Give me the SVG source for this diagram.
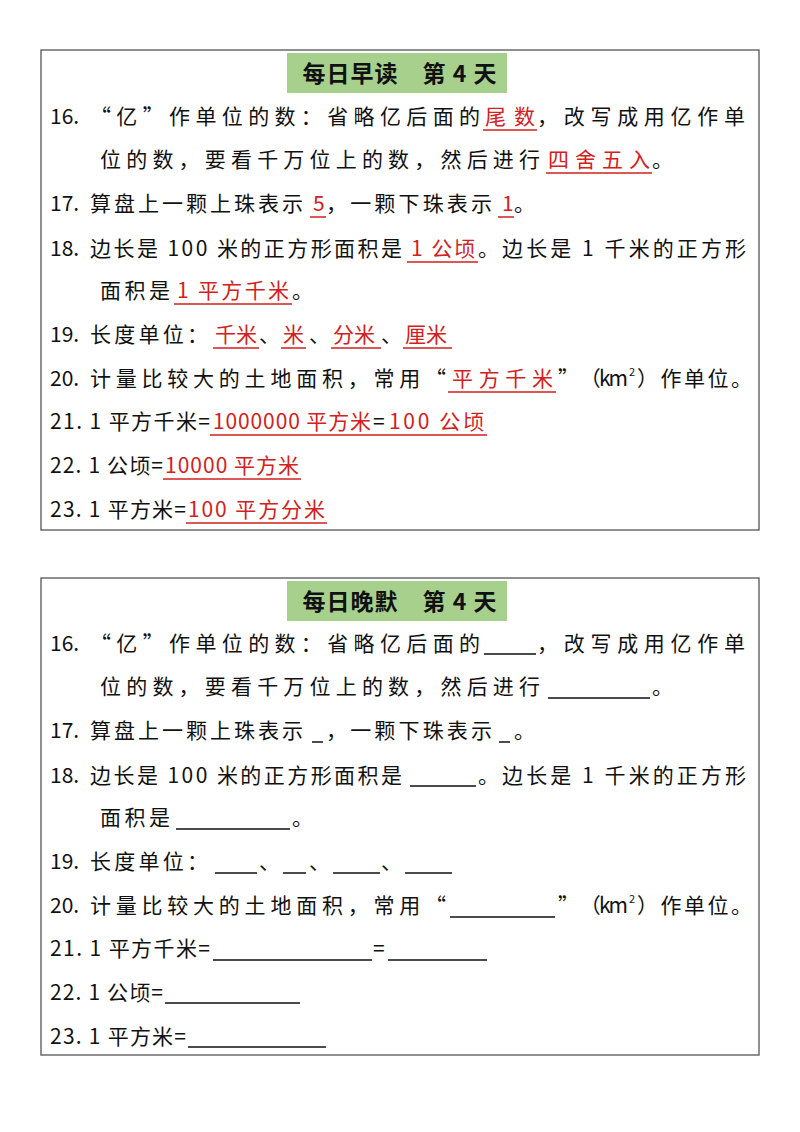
<svg xmlns="http://www.w3.org/2000/svg" width="800" height="1132" viewBox="0 0 800 1132">
<style>
text{font-family:"Noto Sans CJK SC","Noto Sans",sans-serif;font-size:21px;fill:#111}
.r{fill:#d42020}
.t{font-size:23px;font-weight:bold;letter-spacing:1px}
.sup{font-size:11px}
.ur{stroke:#d42020;stroke-width:1.3}
.u{stroke:#111;stroke-width:1.3}
.box{fill:#fff;stroke:#555;stroke-width:1.3}
</style>
<defs>
<g id="body">
<text x="50" y="0">16.</text>
<text x="90" y="0" textLength="390" lengthAdjust="spacing">“亿”作单位的数：省略亿后面的</text>
<text x="537" y="0" textLength="208" lengthAdjust="spacing">，改写成用亿作单</text>
<text x="100" y="43" textLength="440" lengthAdjust="spacing">位的数，要看千万位上的数，然后进行</text>
<text x="652" y="43">。</text>
<text x="50" y="87">17.</text>
<text x="90" y="87" textLength="213" lengthAdjust="spacing">算盘上一颗上珠表示</text>
<text x="326" y="87" textLength="166" lengthAdjust="spacing">，一颗下珠表示</text>
<text x="514" y="87">。</text>
<text x="50" y="132">18.</text>
<text x="90" y="132" textLength="312" lengthAdjust="spacing">边长是 100 米的正方形面积是</text>
<text x="478" y="132" textLength="268" lengthAdjust="spacing">。边长是 1 千米的正方形</text>
<text x="100" y="174" textLength="70" lengthAdjust="spacing">面积是</text>
<text x="292" y="174">。</text>
<text x="50" y="218">19.</text>
<text x="90" y="218" textLength="118" lengthAdjust="spacing">长度单位：</text>
<text x="259" y="218">、</text><text x="309" y="218">、</text><text x="381" y="218">、</text>
<text x="50" y="262">20.</text>
<text x="90" y="262" textLength="356" lengthAdjust="spacing">计量比较大的土地面积，常用“</text>
<text x="558" y="262" textLength="70" lengthAdjust="spacing">” （km</text>
<text class="sup" x="629" y="252">2</text>
<text x="637" y="262" textLength="115" lengthAdjust="spacing">）作单位。</text>
<text x="50" y="305" textLength="160" lengthAdjust="spacing">21. 1 平方千米=</text>
<text x="373" y="305">=</text>
<text x="50" y="349" textLength="113" lengthAdjust="spacing">22. 1 公顷=</text>
<text x="50" y="393" textLength="136" lengthAdjust="spacing">23. 1 平方米=</text>
</g>
</defs>
<rect width="800" height="1132" fill="#fff"/>
<g id="card1">
<rect class="box" x="41" y="50" width="718" height="480"/>
<rect x="287" y="53" width="220" height="40" fill="#a8d08d"/>
<text class="t" x="400" y="82" text-anchor="middle">每日早读　第 4 天</text>
<use href="#body" y="124"/>
<text class="r" x="485" y="124" textLength="50" lengthAdjust="spacing">尾数</text>
<text class="r" x="548" y="167" textLength="102" lengthAdjust="spacing">四舍五入</text>
<text class="r" x="313" y="211">5</text>
<text class="r" x="502" y="211">1</text>
<text class="r" x="411" y="256" textLength="64" lengthAdjust="spacing">1 公顷</text>
<text class="r" x="177" y="298" textLength="112" lengthAdjust="spacing">1 平方千米</text>
<text class="r" x="215" y="342">千米</text>
<text class="r" x="283" y="342">米</text>
<text class="r" x="333" y="342">分米</text>
<text class="r" x="405" y="342">厘米</text>
<text class="r" x="452" y="386" textLength="101" lengthAdjust="spacing">平方千米</text>
<text class="r" x="213" y="429" textLength="158" lengthAdjust="spacing">1000000 平方米</text>
<text class="r" x="389" y="429" textLength="95" lengthAdjust="spacing">100 公顷</text>
<text class="r" x="165" y="473" textLength="134" lengthAdjust="spacing">10000 平方米</text>
<text class="r" x="188" y="517" textLength="137" lengthAdjust="spacing">100 平方分米</text>
<path class="ur" d="M483 130H537M546 173H652M310 217H326M498 217H514M407 262H478M174 304H292M213 348H259M281 348H306M331 348H381M403 348H452M448 392H556M210 435H487M163 479H301M186 523H327"/>
</g>
<g id="card2">
<rect class="box" x="41" y="578" width="718" height="477"/>
<rect x="287" y="581" width="220" height="40" fill="#a8d08d"/>
<text class="t" x="400" y="610" text-anchor="middle">每日晚默　第 4 天</text>
<use href="#body" y="651"/>
<path class="u" d="M484 654H536M548 698H650M312 742H323M499 742H510M410 786H476M176 829H290M215 873H257M283 873H306M333 873H380M405 873H452M450 917H555M213 960H372M388 960H487M165 1003H300M188 1047H326"/>
</g>
</svg>
